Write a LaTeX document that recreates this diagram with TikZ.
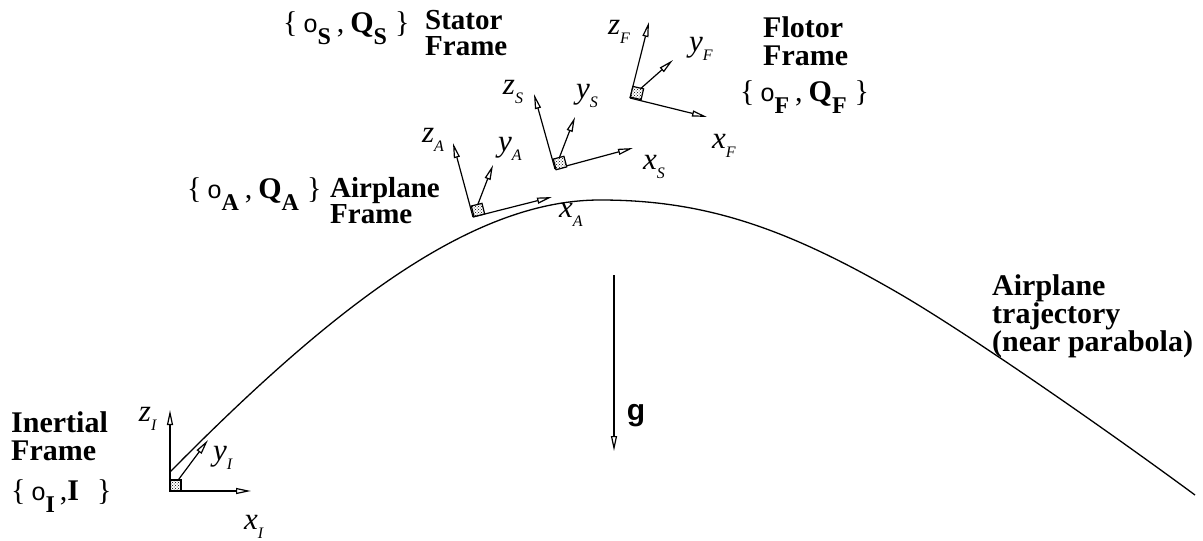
\documentclass[tikz,border=0pt]{standalone}
\usepackage{fontspec}
\setmainfont{Liberation Serif}
\setsansfont{Liberation Sans}
\usetikzlibrary{arrows.meta,patterns}

\newcommand{\lowsub}[1]{\raisebox{-0.42em}{\fontsize{24}{24}\selectfont #1}}
\newcommand{\axlab}[2]{\textit{#1}\raisebox{-0.28em}{\fontsize{16}{16}\selectfont\textit{#2}}}
\newcommand{\oset}[2]{\{\hspace{6pt}{\sffamily\fontsize{25}{25}\selectfont o}\lowsub{\textbf{#1}}\hspace{6pt},\hspace{6pt}#2\hspace{8pt}\}}

\begin{document}
\begin{tikzpicture}[x=1pt,y=-1pt,
  axis/.style={line width=1.2pt,-{Triangle[open,length=15pt,width=6pt]}},
  orig/.style={draw,line width=1.2pt,preaction={fill=white},pattern=crosshatch dots,minimum size=11pt,inner sep=0pt},
  title/.style={font=\fontsize{30}{28.5}\selectfont\bfseries,align=left,inner sep=0pt},
  stack/.style={font=\fontsize{29}{26}\selectfont\bfseries,align=left,inner sep=0pt},
  fset/.style={font=\fontsize{30}{30}\selectfont,inner sep=0pt},
  axl/.style={font=\fontsize{31}{31}\selectfont,inner sep=0pt}]
\useasboundingbox (0,0) rectangle (1203,541);

% trajectory
\draw[line width=1.3pt] (170,472) .. controls (330,310) and (470,200) .. (600,200)
  .. controls (700,200) and (780,225) .. (893,290)
  .. controls (960,328) and (1100,425) .. (1195,495);

% inertial frame
\coordinate (cI) at (170,491);
\coordinate (xI) at (251,491);
\coordinate (yI) at (208,440);
\coordinate (zI) at (170,410);
\draw[axis] (cI) -- (xI);
\draw[axis] (cI) -- (yI);
\draw[axis] (cI) -- (zI);
\node[orig] (oI) at (175.5,485.5) {};
\node[axl] (lxI) at (254,527) {\axlab{x}{I}};
\node[axl] (lyI) at (223,458) {\axlab{y}{I}};
\node[axl] (lzI) at (148,419) {\axlab{z}{I}};
\node[title,anchor=north west] (tI) at (11,411) {Inertial\\Frame};
\node[fset,anchor=base west] (sI) at (11,500) {\{\hspace{6pt}{\sffamily\fontsize{25}{25}\selectfont o}\lowsub{\textbf{I}}\hspace{5pt},\textbf{I}\hspace{18pt}\}};

% airplane frame
\coordinate (cA) at (473,217);
\coordinate (xA) at (552,197);
\coordinate (yA) at (493,165);
\coordinate (zA) at (453,143);
\draw[axis] (cA) -- (xA);
\draw[axis] (cA) -- (yA);
\draw[axis] (cA) -- (zA);
\node[orig,rotate=14] (oA) at (478,210) {};
\node[axl] (lxA) at (571,215) {\axlab{x}{A}};
\node[axl] (lyA) at (510,149) {\axlab{y}{A}};
\node[axl] (lzA) at (433,140) {\axlab{z}{A}};
\node[fset,anchor=base west] (sA) at (187,198) {\oset{A}{\textbf{Q}\lowsub{\textbf{A}}}};
\node[stack,anchor=north west] (tA) at (330,177) {Airplane\\Frame};

% stator frame
\coordinate (cS) at (555,169);
\coordinate (xS) at (633,148);
\coordinate (yS) at (575,117);
\coordinate (zS) at (534,94);
\draw[axis] (cS) -- (xS);
\draw[axis] (cS) -- (yS);
\draw[axis] (cS) -- (zS);
\node[orig,rotate=15] (oS) at (560,163) {};
\node[axl] (lxS) at (654,167) {\axlab{x}{S}};
\node[axl] (lyS) at (587,96) {\axlab{y}{S}};
\node[axl] (lzS) at (513,92) {\axlab{z}{S}};
\node[fset,anchor=base west] (sS) at (283,32) {\oset{S}{\textbf{Q}\lowsub{\textbf{S}}}};
\node[stack,anchor=north west] (tS) at (425,10) {Stator\\Frame};

% flotor frame
\coordinate (cF) at (630,98);
\coordinate (xF) at (707,117);
\coordinate (yF) at (673,60);
\coordinate (zF) at (649,22);
\draw[axis] (cF) -- (xF);
\draw[axis] (cF) -- (yF);
\draw[axis] (cF) -- (zF);
\node[orig,rotate=-13] (oF) at (637,93) {};
\node[axl] (lxF) at (724,146) {\axlab{x}{F}};
\node[axl] (lyF) at (701,49) {\axlab{y}{F}};
\node[axl] (lzF) at (619,32) {\axlab{z}{F}};
\node[title,anchor=north west] (tF) at (763,16) {Flotor\\Frame};
\node[fset,anchor=base west] (sF) at (740,101) {\oset{F}{\textbf{Q}\lowsub{\textbf{F}}}};

% gravity
\coordinate (gtop) at (614,275);
\coordinate (gtip) at (614,451);
\draw[axis] (gtop) -- (gtip);
\node[font=\sffamily\bfseries\fontsize{30}{30}\selectfont,inner sep=0pt] (g) at (636,416) {g};

\node[title,anchor=north west,font=\fontsize{30}{26.5}\selectfont\bfseries] (tT) at (992,274) {Airplane\\trajectory\\(near parabola)};
\end{tikzpicture}
\end{document}
